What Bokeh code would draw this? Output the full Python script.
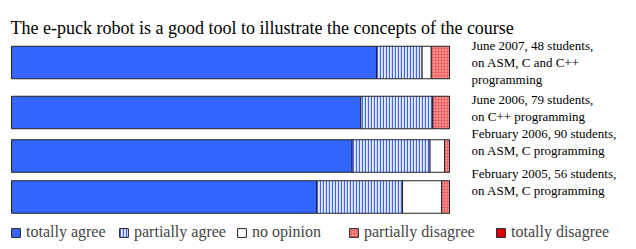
from bokeh.plotting import figure
from bokeh.models import Range1d, Legend, LegendItem, Label, ColumnDataSource
from bokeh.core.properties import value
from bokeh.embed import file_html
from bokeh.resources import INLINE

# ---------------- data ----------------
title_text = "The e-puck robot is a good tool to illustrate the concepts of the course"
categories = ["totally agree", "partially agree", "no opinion", "partially disagree", "totally disagree"]
students = [48, 79, 90, 56]
totally_agree = [40, 63, 70, 39]
partially_agree = [5, 13, 16, 11]
no_opinion = [1, 0, 3, 5]
partially_disagree = [2, 3, 1, 1]
totally_disagree = [0, 0, 0, 0]
session_labels = [
    ["June 2007, 48 students,", "on ASM, C and C++", "programming"],
    ["June 2006, 79 students,", "on C++ programming"],
    ["February 2006, 90 students,", "on ASM, C programming"],
    ["February 2005, 56 students,", "on ASM, C programming"],
]

# ---------------- layout (screen px) ----------------
W, H = 636, 249
BAR_L, BAR_R = 11, 449          # px of 0% and 100%
row_y = [62, 112, 155.5, 196.5]  # px centres of bars
bar_h = 32.5
label_x = 471
label_baselines = [[45, 62, 79], [99, 116], [133, 150], [173, 190]]
legend_x = [10, 118, 236, 348, 495]
FONT = "'Liberation Serif', 'Times New Roman', serif"

scale = (BAR_R - BAR_L) / 100.0
p = figure(width=W, height=H, output_backend="svg", toolbar_location=None,
           x_axis_type=None, y_axis_type=None, min_border=0,
           x_range=Range1d(-BAR_L / scale, (W - BAR_L) / scale),
           y_range=Range1d(H, 0))
p.outline_line_color = None
p.grid.visible = False
p.background_fill_color = "white"
p.border_fill_color = "white"

series = [totally_agree, partially_agree, no_opinion, partially_disagree, totally_disagree]
styles = [
    dict(fill_color="#3366ff"),
    dict(fill_color="#e6ecff", hatch_pattern="|", hatch_color="#3f63f5", hatch_scale=3, hatch_weight=1.3),
    dict(fill_color="white"),
    dict(fill_color="#ee6464", hatch_pattern=".", hatch_color="#ffd8d8", hatch_scale=3, hatch_weight=1),
    dict(fill_color="#dd0000"),
]

left = [0.0] * len(students)
renderers = []
for name, vals, st in zip(categories, series, styles):
    pct = [100.0 * v / n for v, n in zip(vals, students)]
    right = [l + q for l, q in zip(left, pct)]
    src = ColumnDataSource(dict(y=row_y, left=left, right=right))
    r = p.hbar(y="y", left="left", right="right", height=bar_h, source=src,
               line_color="#222222", line_width=1, **st)
    renderers.append(r)
    left = right

for lines, bases in zip(session_labels, label_baselines):
    p.text(x=[(label_x - BAR_L) / scale] * len(lines), y=bases, text=lines,
           text_font=value(FONT), text_font_size="13px", text_baseline="alphabetic",
           text_color="black")

p.add_layout(Label(x=10, y=H - 27, x_units="screen", y_units="screen", text=title_text,
                   text_font=FONT, text_font_size="18px", text_baseline="alphabetic",
                   text_color="black"))

for name, r, lx in zip(categories, renderers, legend_x):
    legend = Legend(items=[LegendItem(label=name, renderers=[r])],
                    orientation="horizontal", location=(lx, 8),
                    glyph_width=11, glyph_height=11, label_standoff=5, spacing=0,
                    padding=0, margin=0, label_height=11,
                    label_text_font=FONT, label_text_font_size="16px",
                    label_text_baseline="middle",
                    border_line_color=None, background_fill_alpha=0)
    p.add_layout(legend, "center")

open("out.html", "w").write(file_html(p, INLINE))
